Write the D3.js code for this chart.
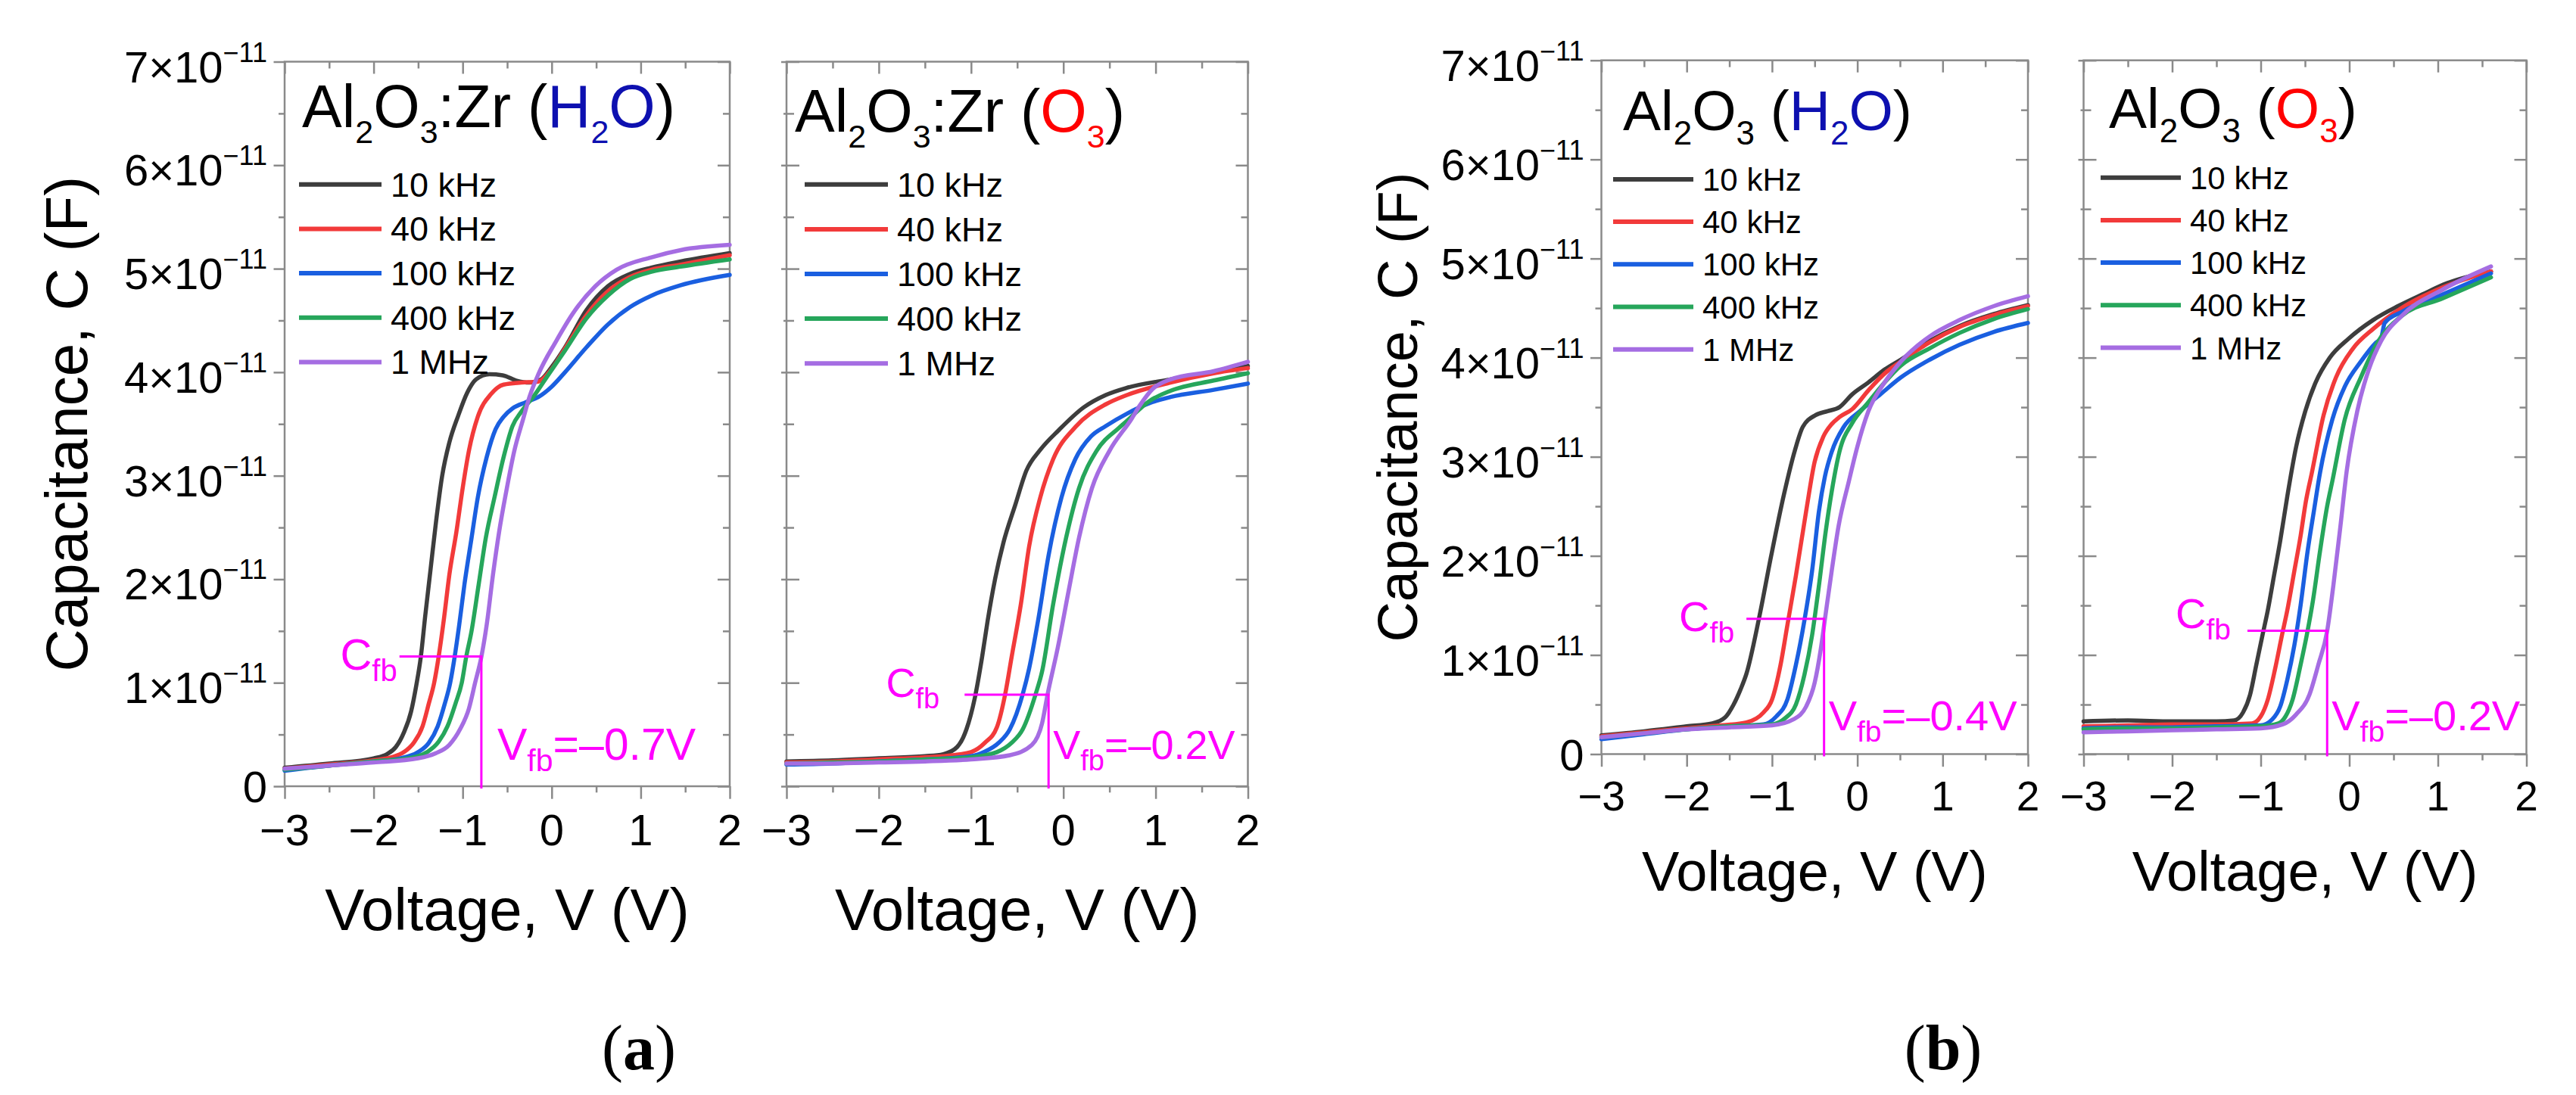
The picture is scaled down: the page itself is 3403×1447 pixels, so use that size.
<!DOCTYPE html>
<html>
<head>
<meta charset="utf-8">
<script src="https://cdn.jsdelivr.net/npm/d3@7"></script>
<style>
  body { margin: 0; background: #fff; }
  svg { display: block; font-family: "Liberation Sans", Arial, sans-serif; white-space: pre; }
  .frame { fill: none; stroke: #8a8a8a; stroke-width: 2.5; }
  .tick line { stroke: #8a8a8a; stroke-width: 2.5; }
  .curve { fill: none; stroke-width: 5.5; stroke-linejoin: round; stroke-linecap: round; }
  .fb { stroke: #ff00ff; stroke-width: 3; fill: none; }
  .fbtext { fill: #ff00ff; }
</style>
</head>
<body>
<svg id="chart" width="3403" height="1447" viewBox="0 0 3403 1447"></svg>
<script>
// ---- data (capacitance in units of 1e-11 F, voltage in V) ----
const voltMajor = [-3, -2, -1, 0, 1, 2];
const voltMinor = [-2.5, -1.5, -0.5, 0.5, 1.5];
const capMajor = [0, 1, 2, 3, 4, 5, 6, 7];
const capMinor = [0.5, 1.5, 2.5, 3.5, 4.5, 5.5, 6.5];
const capExponent = "\u221211";
const frequencies = ["10 kHz", "40 kHz", "100 kHz", "400 kHz", "1 MHz"];
const freqColors = ["#3d3d3d", "#f23a3a", "#1a5fe0", "#26a65b", "#a56de2"];

// (a) Al2O3:Zr, H2O
const zrH2O_10k = [[-3,0.18],[-2.5,0.22],[-2,0.27],[-1.85,0.31],[-1.75,0.38],[-1.66,0.52],[-1.58,0.72],[-1.52,0.98],[-1.47,1.25],[-1.42,1.65],[-1.36,2.1],[-1.3,2.55],[-1.23,3.0],[-1.15,3.32],[-1.05,3.58],[-0.95,3.8],[-0.85,3.93],[-0.7,3.98],[-0.55,3.97],[-0.4,3.92],[-0.25,3.9],[-0.12,3.93],[0,4.05],[0.15,4.24],[0.39,4.6],[0.63,4.83],[0.88,4.95],[1.12,5.01],[1.45,5.07],[2,5.15]];
const zrH2O_40k = [[-3,0.17],[-2.5,0.21],[-2,0.25],[-1.8,0.28],[-1.66,0.33],[-1.55,0.42],[-1.45,0.58],[-1.38,0.8],[-1.32,1.0],[-1.27,1.25],[-1.21,1.62],[-1.15,2.04],[-1.07,2.46],[-1.0,2.88],[-0.93,3.24],[-0.83,3.57],[-0.68,3.79],[-0.54,3.88],[-0.34,3.9],[-0.15,3.91],[0,4.03],[0.15,4.23],[0.39,4.55],[0.63,4.78],[0.88,4.92],[1.12,4.99],[1.45,5.04],[2,5.13]];
const zrH2O_100k = [[-3,0.15],[-2.5,0.2],[-2,0.24],[-1.7,0.27],[-1.5,0.33],[-1.38,0.42],[-1.28,0.58],[-1.2,0.8],[-1.14,1.0],[-1.09,1.25],[-1.04,1.55],[-0.98,1.95],[-0.9,2.4],[-0.83,2.79],[-0.73,3.18],[-0.63,3.45],[-0.54,3.57],[-0.44,3.65],[-0.29,3.71],[-0.15,3.76],[0,3.86],[0.15,4.0],[0.39,4.24],[0.63,4.46],[0.88,4.63],[1.12,4.74],[1.45,4.84],[2,4.94]];
const zrH2O_400k = [[-3,0.16],[-2.5,0.2],[-2,0.24],[-1.6,0.27],[-1.4,0.33],[-1.27,0.43],[-1.17,0.58],[-1.08,0.8],[-1.01,1.0],[-0.96,1.25],[-0.9,1.5],[-0.82,1.95],[-0.74,2.4],[-0.64,2.8],[-0.54,3.18],[-0.44,3.48],[-0.34,3.62],[-0.2,3.77],[-0.05,3.96],[0.15,4.21],[0.39,4.52],[0.63,4.74],[0.88,4.9],[1.12,4.97],[1.45,5.02],[2,5.09]];
const zrH2O_1M = [[-3,0.17],[-2.5,0.2],[-2,0.23],[-1.5,0.27],[-1.3,0.32],[-1.15,0.4],[-1.03,0.55],[-0.93,0.75],[-0.86,1.0],[-0.79,1.25],[-0.73,1.56],[-0.66,2.04],[-0.59,2.46],[-0.51,2.85],[-0.42,3.24],[-0.32,3.55],[-0.25,3.76],[-0.15,3.98],[0.05,4.3],[0.24,4.57],[0.49,4.83],[0.73,4.99],[1.12,5.11],[1.45,5.18],[2,5.23]];

// (a) Al2O3:Zr, O3
const zrO3_10k = [[-3,0.24],[-2.5,0.25],[-2,0.27],[-1.5,0.29],[-1.3,0.31],[-1.15,0.38],[-1.05,0.55],[-0.96,0.85],[-0.88,1.25],[-0.82,1.6],[-0.74,2.0],[-0.65,2.35],[-0.52,2.72],[-0.4,3.05],[-0.25,3.25],[-0.05,3.44],[0.22,3.66],[0.46,3.78],[0.69,3.85],[1.16,3.93],[1.63,4.0],[2,4.06]];
const zrO3_40k = [[-3,0.23],[-2.5,0.24],[-2,0.26],[-1.5,0.28],[-1.2,0.3],[-1.0,0.33],[-0.85,0.42],[-0.72,0.57],[-0.63,0.89],[-0.56,1.25],[-0.46,1.76],[-0.37,2.32],[-0.25,2.79],[-0.11,3.16],[0.13,3.47],[0.46,3.69],[0.69,3.78],[1.16,3.9],[1.63,3.99],[2,4.04]];
const zrO3_100k = [[-3,0.21],[-2.5,0.22],[-2,0.24],[-1.5,0.26],[-1.0,0.29],[-0.86,0.33],[-0.7,0.42],[-0.58,0.55],[-0.44,0.89],[-0.37,1.14],[-0.27,1.62],[-0.16,2.23],[-0.02,2.79],[0.13,3.16],[0.3,3.38],[0.46,3.48],[0.69,3.6],[0.93,3.7],[1.16,3.76],[1.63,3.83],[2,3.89]];
const zrO3_400k = [[-3,0.22],[-2.5,0.23],[-2,0.24],[-1.5,0.26],[-1.0,0.28],[-0.72,0.33],[-0.56,0.42],[-0.44,0.55],[-0.3,0.89],[-0.23,1.11],[-0.11,1.76],[0.03,2.4],[0.17,2.88],[0.36,3.24],[0.6,3.46],[0.69,3.53],[0.93,3.72],[1.16,3.82],[1.63,3.92],[2,3.99]];
const zrO3_1M = [[-3,0.22],[-2.5,0.22],[-2,0.23],[-1.5,0.24],[-1.0,0.26],[-0.58,0.3],[-0.34,0.4],[-0.23,0.61],[-0.17,0.89],[-0.06,1.34],[0.06,1.9],[0.17,2.4],[0.31,2.88],[0.5,3.24],[0.74,3.55],[0.83,3.68],[0.97,3.84],[1.16,3.93],[1.63,4.01],[2,4.1]];

// (b) Al2O3, H2O
const alH2O_10k = [[-3,0.19],[-2.5,0.23],[-2,0.28],[-1.7,0.31],[-1.55,0.37],[-1.45,0.5],[-1.37,0.65],[-1.3,0.81],[-1.15,1.38],[-1.01,2.0],[-0.86,2.62],[-0.73,3.07],[-0.64,3.3],[-0.49,3.42],[-0.35,3.46],[-0.21,3.5],[-0.06,3.63],[0.13,3.75],[0.32,3.88],[0.51,3.98],[0.85,4.17],[1.2,4.32],[1.6,4.44],[2,4.53]];
const alH2O_40k = [[-3,0.18],[-2.5,0.22],[-2,0.26],[-1.6,0.29],[-1.3,0.32],[-1.1,0.42],[-1.0,0.55],[-0.9,0.9],[-0.82,1.3],[-0.72,1.8],[-0.6,2.45],[-0.5,2.95],[-0.4,3.2],[-0.3,3.33],[-0.21,3.4],[-0.06,3.48],[0.13,3.67],[0.32,3.84],[0.51,3.96],[0.84,4.15],[1.2,4.31],[1.6,4.43],[2,4.52]];
const alH2O_100k = [[-3,0.15],[-2.5,0.2],[-2,0.25],[-1.5,0.28],[-1.1,0.3],[-0.95,0.38],[-0.82,0.55],[-0.72,0.9],[-0.62,1.35],[-0.53,1.85],[-0.45,2.45],[-0.38,2.8],[-0.3,3.05],[-0.16,3.3],[0.03,3.46],[0.27,3.63],[0.51,3.8],[0.85,3.98],[1.2,4.13],[1.6,4.26],[2,4.35]];
const alH2O_400k = [[-3,0.17],[-2.5,0.21],[-2,0.25],[-1.5,0.28],[-1.0,0.3],[-0.85,0.36],[-0.72,0.5],[-0.62,0.8],[-0.53,1.2],[-0.45,1.7],[-0.37,2.25],[-0.3,2.65],[-0.21,3.05],[-0.06,3.34],[0.13,3.55],[0.32,3.75],[0.51,3.92],[0.84,4.09],[1.2,4.25],[1.6,4.39],[2,4.49]];
const alH2O_1M = [[-3,0.17],[-2.5,0.21],[-2,0.25],[-1.5,0.27],[-1.0,0.29],[-0.75,0.35],[-0.6,0.48],[-0.5,0.72],[-0.43,1.05],[-0.38,1.36],[-0.3,1.85],[-0.22,2.3],[-0.1,2.75],[0,3.1],[0.13,3.46],[0.32,3.75],[0.51,3.96],[0.84,4.21],[1.2,4.38],[1.6,4.52],[2,4.62]];

// (b) Al2O3, O3
const alO3_10k = [[-3,0.33],[-2.5,0.34],[-2,0.33],[-1.5,0.33],[-1.3,0.34],[-1.2,0.42],[-1.12,0.6],[-1.05,0.9],[-0.98,1.2],[-0.92,1.45],[-0.85,1.8],[-0.78,2.15],[-0.7,2.6],[-0.6,3.1],[-0.5,3.45],[-0.38,3.75],[-0.22,4.0],[-0.01,4.19],[0.27,4.38],[0.55,4.52],[0.83,4.64],[1.1,4.75],[1.6,4.87]];
const alO3_40k = [[-3,0.28],[-2.5,0.29],[-2,0.3],[-1.5,0.3],[-1.1,0.31],[-1.0,0.38],[-0.92,0.55],[-0.84,0.85],[-0.76,1.2],[-0.7,1.45],[-0.62,1.85],[-0.55,2.2],[-0.49,2.55],[-0.42,2.85],[-0.29,3.42],[-0.15,3.8],[0.04,4.09],[0.27,4.29],[0.59,4.5],[1.06,4.71],[1.6,4.87]];
const alO3_100k = [[-3,0.26],[-2.5,0.27],[-2,0.27],[-1.5,0.28],[-1.0,0.29],[-0.87,0.35],[-0.78,0.48],[-0.7,0.75],[-0.62,1.1],[-0.55,1.5],[-0.47,2.05],[-0.4,2.45],[-0.33,2.84],[-0.19,3.38],[-0.05,3.71],[0.13,3.96],[0.3,4.15],[0.36,4.2],[0.4,4.35],[0.59,4.46],[1.06,4.64],[1.6,4.85]];
const alO3_400k = [[-3,0.25],[-2.5,0.26],[-2,0.26],[-1.5,0.27],[-1.0,0.28],[-0.8,0.31],[-0.72,0.38],[-0.64,0.55],[-0.55,0.9],[-0.48,1.2],[-0.41,1.55],[-0.33,2.05],[-0.25,2.5],[-0.19,2.76],[-0.05,3.38],[0.13,3.8],[0.36,4.21],[0.59,4.42],[1.06,4.6],[1.6,4.81]];
const alO3_1M = [[-3,0.22],[-2.5,0.23],[-2,0.24],[-1.5,0.25],[-1.0,0.26],[-0.75,0.3],[-0.6,0.4],[-0.45,0.6],[-0.35,0.9],[-0.25,1.24],[-0.18,1.7],[-0.1,2.3],[-0.03,2.85],[0.09,3.46],[0.22,3.88],[0.36,4.17],[0.59,4.42],[1.06,4.69],[1.6,4.92]];

// flat-band annotations per panel
const cfbValues = [1.253, 0.885, 1.364, 1.244];
const cfbLineStart = [-1.71, -1.07, -1.30, -1.15];
const vfbValues = [-0.79, -0.16, -0.39, -0.25];
const vfbLabels = ["=\u20130.7V", "=\u20130.2V", "=\u20130.4V", "=\u20130.2V"];

// panel titles: [text, subscript?, colour]
const H2O_BLUE = "#0d10b0", O3_RED = "#ff0000";
const titles = [
  [["Al"], ["2", 1], ["O"], ["3", 1], [":Zr ("], ["H", 0, H2O_BLUE], ["2", 1, H2O_BLUE], ["O", 0, H2O_BLUE], [")"]],
  [["Al"], ["2", 1], ["O"], ["3", 1], [":Zr ("], ["O", 0, O3_RED], ["3", 1, O3_RED], [")"]],
  [["Al"], ["2", 1], ["O"], ["3", 1], [" ("], ["H", 0, H2O_BLUE], ["2", 1, H2O_BLUE], ["O", 0, H2O_BLUE], [")"]],
  [["Al"], ["2", 1], ["O"], ["3", 1], [" ("], ["O", 0, O3_RED], ["3", 1, O3_RED], [")"]]
];

const panelSeries = [
  [zrH2O_10k, zrH2O_40k, zrH2O_100k, zrH2O_400k, zrH2O_1M],
  [zrO3_10k, zrO3_40k, zrO3_100k, zrO3_400k, zrO3_1M],
  [alH2O_10k, alH2O_40k, alH2O_100k, alH2O_400k, alH2O_1M],
  [alO3_10k, alO3_40k, alO3_100k, alO3_400k, alO3_1M]
];

// ---- layout ----
const frames = [
  { x0: 376, x1: 964, top: 81.5, bottom: 1039, left: true, g: "a" },
  { x0: 1039, x1: 1648.5, top: 81.5, bottom: 1039, left: false, g: "a" },
  { x0: 2115.5, x1: 2679, top: 79.7, bottom: 996.5, left: true, g: "b" },
  { x0: 2752.5, x1: 3337.5, top: 79.7, bottom: 996.5, left: false, g: "b" }
];
const groupStyle = {
  a: { xTick: 58, xTickDy: 78, xTitle: 78, xTitleY: 1229, yTitleX: 115, title: 79, titleSub: 43, titleShift: 21, legend: 45, legendDy: 16 },
  b: { xTick: 55, xTickDy: 74, xTitle: 74, xTitleY: 1177, yTitleX: 1872, title: 75, titleSub: 44, titleShift: 19, legend: 42, legendDy: 15 }
};
const titlePos = [[23, 168], [11, 174], [28.5, 172], [33.5, 169]];
const legendPos = [ // dx, first row dy, row step, line length
  [19, 162.3, 58.65, 109], [24, 162.3, 59.1, 110], [15.5, 157.2, 56.2, 106], [22.5, 155, 56.2, 106]
];
const cfbText = [ // gap before line, baseline dy, font, sub font
  [3, 17, 58, 40], [33, 3, 54, 38], [16, 16, 56, 39], [22, -4, 56, 39]
];
const vfbText = [ // gap after line, baseline above axis, font, sub font
  [21, 35, 59, 41], [6, 36, 54, 38], [6, 31.5, 56, 39], [6, 31.5, 56, 39]
];

const svg = d3.select("#chart");
svg.append("rect").attr("width", 3403).attr("height", 1447).attr("fill", "#fff");

function subText(sel, parts, font, subFont, shift) {
  let off = 0;
  parts.forEach(([t, sub, color]) => {
    const s = sub ? shift : 0;
    sel.append("tspan")
      .attr("dy", s - off)
      .attr("font-size", sub ? subFont : font)
      .attr("fill", color || null)
      .text(t);
    off = s;
  });
}

frames.forEach((f, i) => {
  const st = groupStyle[f.g];
  const x = d3.scaleLinear().domain([-3, 2]).range([f.x0, f.x1]);
  const y = d3.scaleLinear().domain([0, 7]).range([f.bottom, f.top]);
  const g = svg.append("g");

  const noLabel = a => a.tickFormat("");
  const tickGroup = (axis, tr) => g.append("g").attr("transform", tr).call(axis)
    .call(s => s.select(".domain").remove());

  // bottom / top
  tickGroup(noLabel(d3.axisBottom(x).tickValues(voltMajor).tickSize(16.7)), `translate(0,${f.bottom})`);
  tickGroup(noLabel(d3.axisBottom(x).tickValues(voltMinor).tickSize(8.3)), `translate(0,${f.bottom})`);
  tickGroup(noLabel(d3.axisTop(x).tickValues(voltMajor).tickSize(-16)), `translate(0,${f.top})`);
  tickGroup(noLabel(d3.axisTop(x).tickValues(voltMinor).tickSize(-9)), `translate(0,${f.top})`);
  // left / right
  if (f.left) {
    tickGroup(noLabel(d3.axisLeft(y).tickValues(capMajor).tickSize(14.5)), `translate(${f.x0},0)`);
    tickGroup(noLabel(d3.axisLeft(y).tickValues(capMinor).tickSize(8)), `translate(${f.x0},0)`);
  } else {
    tickGroup(noLabel(d3.axisLeft(y).tickValues(capMajor).tickSize(7)), `translate(${f.x0},0)`);
    tickGroup(noLabel(d3.axisLeft(y).tickValues(capMajor).tickSize(-17)), `translate(${f.x0},0)`);
    tickGroup(noLabel(d3.axisLeft(y).tickValues(capMinor).tickSize(4)), `translate(${f.x0},0)`);
    tickGroup(noLabel(d3.axisLeft(y).tickValues(capMinor).tickSize(-10)), `translate(${f.x0},0)`);
  }
  tickGroup(noLabel(d3.axisRight(y).tickValues(capMajor).tickSize(-16)), `translate(${f.x1},0)`);
  tickGroup(noLabel(d3.axisRight(y).tickValues(capMinor).tickSize(-9)), `translate(${f.x1},0)`);

  g.append("rect").attr("class", "frame")
    .attr("x", f.x0).attr("y", f.top)
    .attr("width", f.x1 - f.x0).attr("height", f.bottom - f.top);

  // x tick labels
  g.selectAll(null).data(voltMajor).join("text")
    .attr("x", d => x(d)).attr("y", f.bottom + st.xTickDy)
    .attr("text-anchor", "middle").attr("font-size", st.xTick)
    .text(d => d < 0 ? "\u2212" + Math.abs(d) : d);

  // y tick labels (left panels only)
  if (f.left) {
    capMajor.forEach(v => {
      const t = g.append("text").attr("x", f.x0 - 23).attr("text-anchor", "end").attr("font-size", 58);
      if (v === 0) {
        t.attr("y", y(v) + 21).text("0");
      } else {
        t.attr("y", y(v) + 27);
        t.append("tspan").text(v + "\u00d710");
        t.append("tspan").attr("dy", -27).attr("font-size", 36).text(capExponent);
      }
    });
    svg.append("text")
      .attr("transform", `translate(${st.yTitleX},${(f.top + f.bottom) / 2}) rotate(-90)`)
      .attr("text-anchor", "middle").attr("font-size", st.xTitle)
      .text("Capacitance, C (F)");
  }

  // x title
  g.append("text").attr("x", (f.x0 + f.x1) / 2).attr("y", st.xTitleY)
    .attr("text-anchor", "middle").attr("font-size", st.xTitle)
    .text("Voltage, V (V)");

  // curves
  const line = d3.line().x(d => x(d[0])).y(d => y(d[1])).curve(d3.curveMonotoneX);
  g.selectAll(null).data(panelSeries[i]).join("path")
    .attr("class", "curve")
    .attr("stroke", (d, k) => freqColors[k])
    .attr("d", line);

  // flat-band markers
  const cy = y(cfbValues[i]);
  g.append("path").attr("class", "fb")
    .attr("d", `M${x(cfbLineStart[i])},${cy}H${x(vfbValues[i])}V${f.bottom + 3}`);
  const [cg, cdy, cf, csf] = cfbText[i];
  const ct = g.append("text").attr("class", "fbtext")
    .attr("x", x(cfbLineStart[i]) - cg).attr("y", cy + cdy).attr("text-anchor", "end");
  subText(ct, [["C"], ["fb", 1]], cf, csf, 15);
  const [vg, vdy, vf, vsf] = vfbText[i];
  const vt = g.append("text").attr("class", "fbtext")
    .attr("x", x(vfbValues[i]) + vg).attr("y", f.bottom - vdy);
  subText(vt, [["V"], ["fb", 1], [vfbLabels[i]]], vf, vsf, 15);

  // title
  const tt = g.append("text").attr("x", f.x0 + titlePos[i][0]).attr("y", titlePos[i][1]);
  subText(tt, titles[i], st.title, st.titleSub, st.titleShift);

  // legend
  const [ldx, ldy, lstep, llen] = legendPos[i];
  const lg = g.append("g");
  frequencies.forEach((name, k) => {
    const ry = f.top + ldy + k * lstep;
    lg.append("line").attr("x1", f.x0 + ldx).attr("x2", f.x0 + ldx + llen)
      .attr("y1", ry).attr("y2", ry)
      .attr("stroke", freqColors[k]).attr("stroke-width", 6);
    lg.append("text").attr("x", f.x0 + ldx + llen + 12).attr("y", ry + st.legendDy)
      .attr("font-size", st.legend).text(name);
  });
});

// sub-figure labels
[["a", 844], ["b", 2567]].forEach(([l, cx]) => {
  const t = svg.append("text").attr("x", cx).attr("y", 1413).attr("text-anchor", "middle")
    .attr("font-family", "'Liberation Serif', 'Times New Roman', serif").attr("font-size", 84);
  t.append("tspan").text("(");
  t.append("tspan").attr("font-weight", "bold").text(l);
  t.append("tspan").text(")");
});
</script>
</body>
</html>
